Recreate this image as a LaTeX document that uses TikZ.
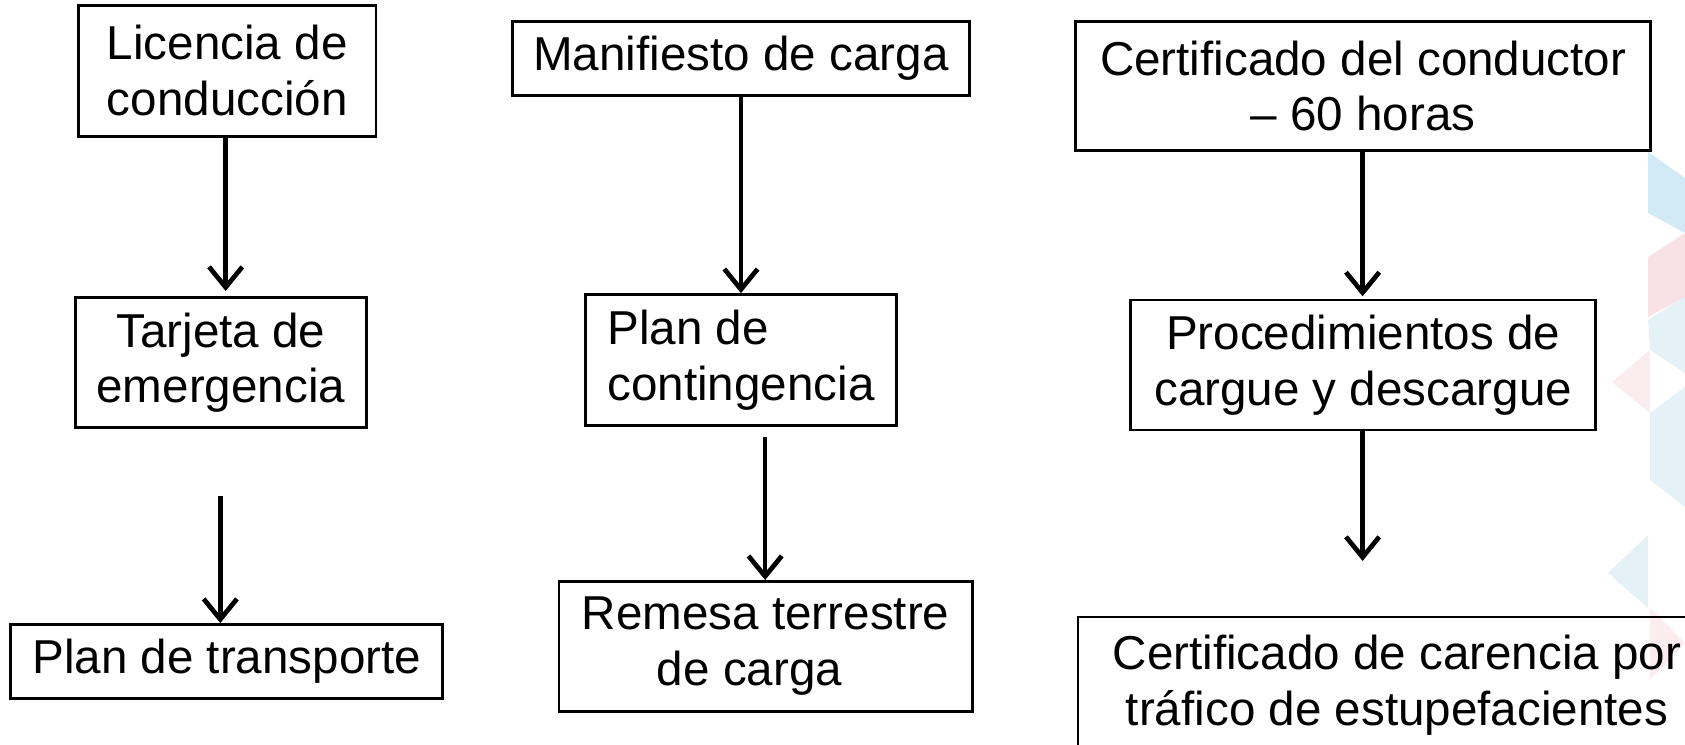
\documentclass[tikz,border=0pt]{standalone}
\usepackage{fontspec}
\setmainfont{Liberation Sans}
\usetikzlibrary{arrows.meta}
\definecolor{triblue}{HTML}{D2EAF5}
\definecolor{triblueL}{HTML}{E4F2F8}
\definecolor{tripink}{HTML}{F9E2E6}
\definecolor{tripinkL}{HTML}{FBECEF}
\tikzset{
  docbox/.style={draw=black, line width=1.4pt, rectangle, inner sep=0pt,
    font=\fontsize{25.2pt}{29.6pt}\selectfont, align=center},
  flowarrow/.style={line width=2.5pt, -{Straight Barb[length=0.38cm,width=0.62cm,line width=2.5pt]}},
}
\begin{document}
\begin{tikzpicture}[x=0.02cm, y=-0.02cm]
\useasboundingbox (0,0) rectangle (1568,693);
\clip (0,0) rectangle (1568,693);
\fill[white] (0,0) rectangle (1568,693);
% faint background mosaic
\fill[triblue] (1533.6,141.4) -- (1568,165.6) -- (1568,216.8) -- (1533.6,198.2) -- cycle;
\fill[tripink] (1568,216.8) -- (1533.6,239.2) -- (1533.6,295) -- (1568,276.4) -- cycle;
\fill[triblueL] (1568,276) -- (1533.6,297.8) -- (1535.5,325.7) -- (1568,347) -- cycle;
\fill[tripinkL] (1500,355.5) -- (1535.5,325.7) -- (1535.5,384.3) -- cycle;
\fill[triblueL] (1535.5,384.3) -- (1568,360) -- (1568,471.8) -- (1535.5,446.7) -- cycle;
\fill[triblueL] (1496.4,533.2) -- (1533.6,497.9) -- (1533.6,565.8) -- cycle;
\fill[tripinkL] (1535.5,565.8) -- (1535.5,632.8) -- (1568,598.4) -- cycle;

% column 1
\node[docbox, minimum width=5.54cm, minimum height=2.44cm] (B1) at (211.5,66) {Licencia de\\conducción};
\node[docbox, minimum width=5.42cm, minimum height=2.42cm] (B2) at (205.5,337.5) {Tarjeta de\\emergencia};
\node[docbox, minimum width=8.04cm, minimum height=1.38cm] (B3) at (211,615.5) {Plan de transporte};
% column 2
\node[docbox, minimum width=8.5cm, minimum height=1.38cm] (B4) at (689.5,54.5) {Manifiesto de carga};
\node[docbox, align=left, minimum width=5.78cm, minimum height=2.44cm] (B5) at (689.5,335) {Plan de\\contingencia};
\node[docbox, minimum width=7.7cm, minimum height=2.42cm] (B6) at (712.5,601.5) {Remesa terrestre\\de carga\hspace*{0.6cm}};
% column 3
\node[docbox, minimum width=10.7cm, minimum height=2.4cm] (B7) at (1268.5,80) {Certificado del conductor\\– 60 horas};
\node[docbox, minimum width=8.66cm, minimum height=2.42cm] (B8) at (1268.5,339.5) {Procedimientos de\\cargue y descargue};
\node[docbox, minimum width=11.88cm, minimum height=2.56cm] (B9) at (1300,638) {Certificado de carencia por\\tráfico de estupefacientes};

% connector helpers
\coordinate (c1) at (210,0);
\coordinate (s2) at (205,462);
\coordinate (c4) at (712,0);
\coordinate (e6) at (1268,522);

\draw[flowarrow, shorten >=0.1cm] (B1.south -| c1) -- (B2.north -| c1);
\draw[flowarrow] (s2) -- (B3.north -| s2);
\draw[flowarrow] (B4.south) -- (B5.north);
\draw[flowarrow, shorten <=0.18cm] (B5.south -| c4) -- (B6.north -| c4);
\draw[flowarrow, shorten >=0.04cm] (B7.south -| e6) -- (B8.north -| e6);
\draw[flowarrow] (B8.south -| e6) -- (e6);
\end{tikzpicture}
\end{document}
